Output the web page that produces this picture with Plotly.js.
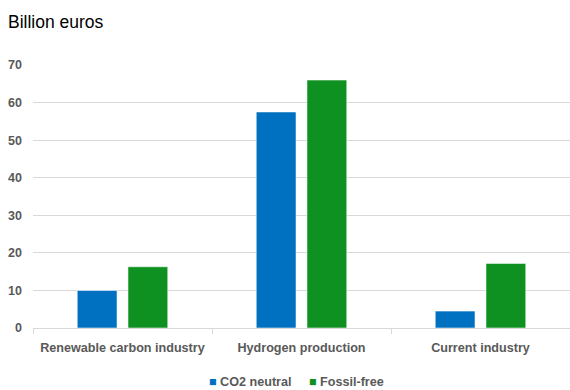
<!DOCTYPE html>
<html>
<head>
<meta charset="utf-8">
<script src="https://cdn.plot.ly/plotly-3.0.1.min.js"></script>
<style>
  html, body { margin: 0; padding: 0; background: #ffffff; overflow: hidden; }
  #chart { width: 570px; height: 390px; }
</style>
</head>
<body>
<div id="chart"></div>
<script>
// Investment needs by sector, in billion euros
const categories = ["Renewable carbon industry", "Hydrogen production", "Current industry"];
const co2Neutral = [10.0, 57.5, 4.5];
const fossilFree = [16.3, 66.0, 17.2];
const seriesNames = ["CO2 neutral", "Fossil-free"];
const yTicks = [0, 10, 20, 30, 40, 50, 60, 70];

const blue = "#0070C0";
const green = "#0F9121";
const edge = "rgba(255,255,255,0.55)";
const labelFont = "Liberation Sans, Arial, sans-serif";

const traces = [
  {
    type: "bar", name: seriesNames[0], x: categories, y: co2Neutral,
    marker: { color: blue, line: { color: edge, width: 1 } },
    showlegend: false
  },
  {
    type: "bar", name: seriesNames[1], x: categories, y: fossilFree,
    marker: { color: green, line: { color: edge, width: 1 } },
    showlegend: false
  }
];

// compact legend row: small square key right next to each series name
const legendText = [
  `<span style="color:${blue}">■</span> ${seriesNames[0]}`,
  `<span style="color:${green}">■</span> ${seriesNames[1]}`
].join("     ");

const layout = {
  width: 570, height: 390,
  paper_bgcolor: "#ffffff", plot_bgcolor: "#ffffff",
  margin: { l: 33, r: 0, t: 65, b: 62 },
  barmode: "group",
  bargap: 0.433,
  bargroupgap: 0.216,
  showlegend: false,
  title: {
    text: "Billion euros",
    font: { family: labelFont, size: 17.5, color: "#000000" },
    x: 8 / 570, xref: "container", xanchor: "left",
    y: 1 - 21.5 / 390, yref: "container", yanchor: "middle"
  },
  xaxis: {
    type: "category",
    range: [-0.5, 2.5],
    showgrid: false,
    showline: true, linecolor: "#d9d9d9", linewidth: 1,
    ticks: "outside", tickson: "boundaries", ticklen: 5, tickcolor: "#d9d9d9",
    ticklabelstandoff: 8,
    tickfont: { family: labelFont, size: 12.6, color: "#595959", weight: "bold" },
    fixedrange: true
  },
  yaxis: {
    range: [0, 70],
    tickvals: yTicks,
    ticktext: yTicks.map(String),
    showgrid: true, gridcolor: "#d9d9d9", gridwidth: 1,
    zeroline: false, showline: false,
    ticks: "", ticklabelstandoff: 10,
    tickfont: { family: labelFont, size: 12.5, color: "#595959", weight: "bold" },
    fixedrange: true
  },
  annotations: [
    {
      text: legendText,
      xref: "paper", yref: "paper",
      x: (296 - 33) / 537, y: -(382 - 328) / 263,
      xanchor: "center", yanchor: "middle",
      showarrow: false,
      font: { family: labelFont, size: 12.6, color: "#595959", weight: "bold" }
    }
  ]
};

Plotly.newPlot("chart", traces, layout, { displayModeBar: false, staticPlot: true });
</script>
</body>
</html>
